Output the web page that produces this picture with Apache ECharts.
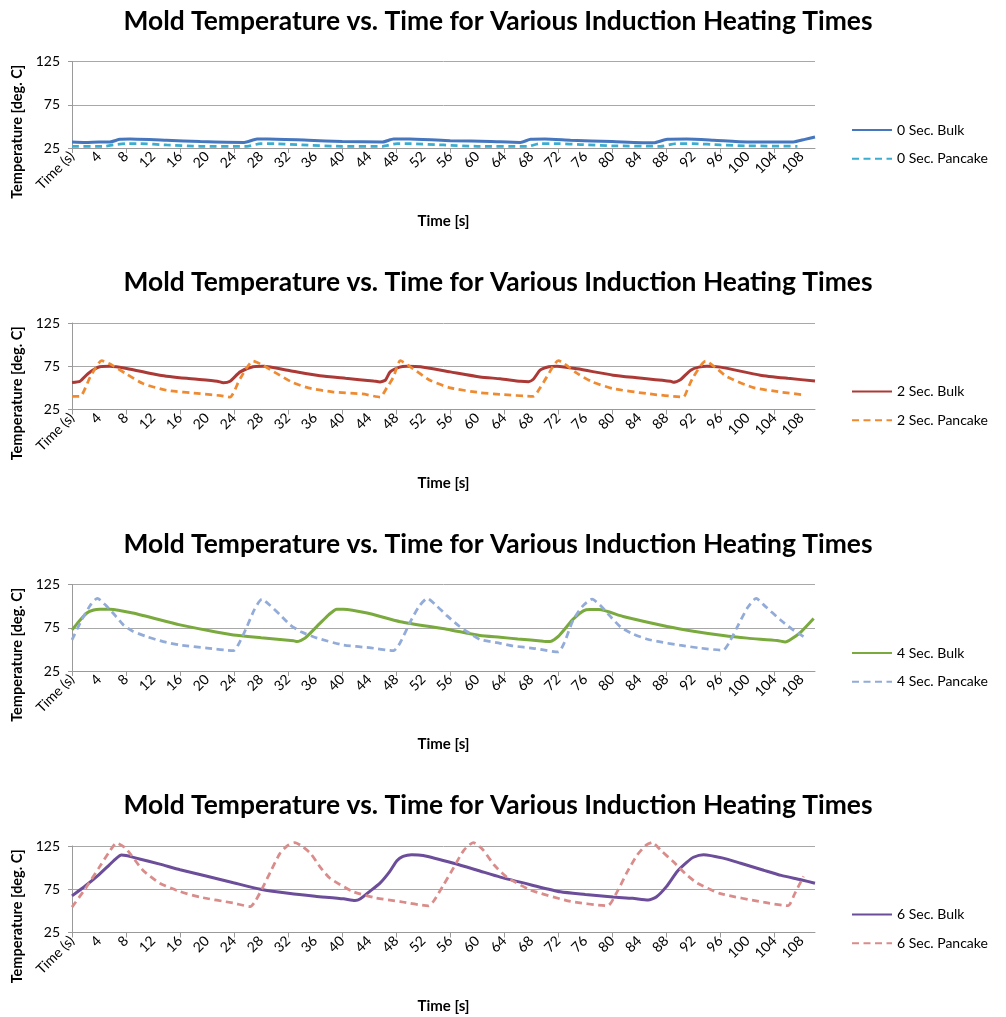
<!DOCTYPE html>
<html>
<head>
<meta charset="utf-8">
<script src="https://cdn.jsdelivr.net/npm/echarts@6/dist/echarts.min.js"></script>
<style>
  html, body { margin: 0; padding: 0; background: #ffffff; }
  #chart { width: 1006px; height: 1017px; }
</style>
</head>
<body>
<div id="chart"></div>
<script>
// Text
const chartTitle = 'Mold Temperature vs. Time for Various Induction Heating Times';
const xAxisTitle = 'Time [s]';
const yAxisTitle = 'Temperature [deg. C]';

// Axis ticks and labels
const xLabelTimes = [0, 4, 8, 12, 16, 20, 24, 28, 32, 36, 40, 44, 48, 52, 56, 60, 64, 68, 72, 76, 80, 84, 88, 92, 96, 100, 104, 108];
const xLabelTexts = ['Time (s)', '4', '8', '12', '16', '20', '24', '28', '32', '36', '40', '44', '48', '52', '56', '60', '64', '68', '72', '76', '80', '84', '88', '92', '96', '100', '104', '108'];
const xTickTimes = [0, 8, 16, 24, 32, 40, 48, 56, 64, 72, 80, 88, 96, 104];
const yMin = 25, yMax = 125, yStep = 50;
const timeMax = 110;

// Series names
const names0 = ['0 Sec. Bulk', '0 Sec. Pancake'];
const names2 = ['2 Sec. Bulk', '2 Sec. Pancake'];
const names4 = ['4 Sec. Bulk', '4 Sec. Pancake'];
const names6 = ['6 Sec. Bulk', '6 Sec. Pancake'];

// Measured mold temperature, [time s, temperature deg. C]
const bulk0 = [[0,32],[2,31.5],[4,32],[5.6,32],[7.1,35],[8.6,35.3],[14,34],[19,32.5],[25.5,31.5],[27.4,35.3],[29,35.3],[35,34],[40,32.5],[46,32],[47.6,35.3],[50,35.3],[56,33.5],[62,32.5],[66.4,31.5],[67.9,35],[70,35.3],[73.8,34],[80,32.5],[86.1,31],[88.1,35],[91,35.3],[95,34],[100,32],[106.8,32],[108.5,35],[110,37.7]];
const pancake0 = [[0,27],[5,27],[6.1,28.7],[8.1,30],[10,30],[14,28.5],[19,27],[25.9,27],[27.9,30],[30,30],[34,28.5],[40,27],[46,27],[48.1,30],[50,30],[55,28.5],[60,27],[67.4,27],[69.3,30],[72,30],[75.3,29],[80,27.5],[87.1,27],[89.5,30],[92,30],[96,28.5],[100,27.5],[107.4,27]];

const bulk2 = [[0,56.2],[1.2,57.7],[2.4,66.7],[4.1,74.4],[5.6,75],[8.1,72.5],[13,64.7],[17,61],[21.5,57.7],[22.4,56],[23.4,57.7],[24.9,68.5],[26.8,74.4],[28.3,75],[32.3,69.7],[36.7,63.9],[40.5,61],[44.6,58],[45.6,56.9],[46.4,59],[47.1,68.5],[48.5,74],[49.6,75],[51.6,74.4],[56,68.5],[60.4,62.7],[63.4,60.5],[66.4,57.7],[67.6,57.2],[68.3,60],[69.3,70.5],[70.6,74.4],[71.8,75],[74.8,72],[80.1,64.7],[84,61.5],[88.6,57.7],[89,56.5],[90,59],[91.6,70.5],[92.8,74],[94,75],[96,74],[101.9,64.7],[106,61],[110,58]];
const pancake2 = [[0,40.2],[1.2,40.2],[2.7,62.7],[4.4,81.4],[6,76],[8.1,65.8],[10.5,55],[14,47.2],[19,43.3],[22,41],[23.4,39.4],[24.9,60.8],[26.8,81],[28.3,76],[30.3,66.7],[32.8,55.7],[35,50],[38.7,45.2],[43,43],[45.6,39.4],[46.6,50],[47.6,62.7],[48.6,81.4],[50.5,72],[53,58.8],[56,50],[60.4,44.5],[63.4,42.5],[68.3,40.2],[69.3,50],[70.3,62.7],[72,81.4],[74.8,66.7],[77,57],[80.1,49.2],[85.2,43.3],[90.5,39.4],[91.2,50],[92,62.7],[93.8,81],[95.5,72],[97,62.7],[100.9,50.3],[104.9,45.2],[108.3,42]];

const bulk4 = [[0,72.5],[1,82],[2.2,92],[3.2,95.5],[4.1,96.5],[5.6,96.5],[9,92],[16,78.3],[20,72],[23.9,66.7],[28,63.5],[32.8,60],[33.3,59],[34.5,63],[36.7,80],[38,90],[39.2,96.5],[40.2,96.5],[43.7,92],[48.6,82],[55.5,73.3],[60.4,66],[63.4,64],[66,62],[69.8,59.5],[70.8,59],[72,65],[74.2,85],[75.7,94.5],[76.7,96],[78,96],[81.6,88],[88.1,76.5],[92,71],[96.4,66],[100,63],[104.4,60.3],[105.6,58.6],[106.5,62],[107.9,70],[109.8,85.6]];
const pancake4 = [[0,61],[1.5,85],[2.8,102],[3.75,109],[5,101],[6.3,90],[7.6,78.3],[9,71],[11.1,64.7],[13.5,59],[16,55],[20,51.5],[23.9,48.5],[24.8,58],[25.9,76.3],[27,96],[28.1,108],[29.3,101],[30.8,90],[32.3,78.3],[34,70],[36.3,63],[40.2,55],[44,52],[47.6,48.5],[48.6,58],[50.1,82],[51.4,100],[52.6,109],[53.9,101],[55.5,89],[57.3,77],[59,68],[60.4,61.5],[63.4,57],[65.3,54],[68.5,51],[72,47],[72.9,58],[74.2,84],[75.6,100],[77,108],[78.2,101],[79.6,89],[81.2,76],[83,68],[85.2,61.7],[87.5,58],[90,54.8],[93,51.5],[96.4,49],[97.3,58],[98.5,76],[100,98],[101.3,109],[102.6,100],[104.9,84],[106.5,74],[108.3,64.8]];

const bulk6 = [[0,67.3],[2,79],[4,92],[5.5,103],[6.6,111],[7.3,114.5],[8,114],[10,110],[13,104],[16,97.5],[20,90],[23.9,82.5],[27.9,75],[32.3,70],[36,67],[40.2,64],[41.9,62],[42.7,64],[44,72],[45.6,82],[47,95],[48.1,108],[49,113],[50.3,115],[52,114],[56.5,105],[60,97],[63.4,89],[68,80],[72.3,72],[76,69],[80.1,66],[83,64.5],[85.3,62.5],[86.5,66],[88,78],[89.6,95.5],[91,106],[92,112],[93.5,115],[96.4,111],[99,105],[102.4,97],[105,91],[107.9,86],[110,82]];
const pancake6 = [[0,54.3],[2,76],[4,100],[5.5,118],[6.6,128.5],[8,122],[10.5,97],[13,82],[16,72.3],[19,65.8],[23.9,59],[26.4,55],[27.2,62],[28.3,78],[29.5,97],[30.8,116.6],[32,126],[33,128.8],[34,125],[35.3,116.6],[36.8,100],[38.2,87.7],[41.6,72.3],[45,65],[48.6,60.8],[52.8,55.8],[53.6,62],[55,80],[56.5,100],[58,120],[59.4,129],[60.8,121],[62.5,103],[64.4,89],[67.9,74],[73.8,61],[79.3,56],[80.7,72],[82.2,95],[83.7,114.8],[85,126],[85.9,129],[87.3,119],[89,107],[90.8,93],[92.6,82],[96,70],[102.4,60],[106,56],[107,70],[108.3,89.8]];

// Panel composition and styling
const panels = [
  { names: names0, bulk: bulk0, pancake: pancake0, colors: ['#4677BE', '#3BADCF'] },
  { names: names2, bulk: bulk2, pancake: pancake2, colors: ['#AB3A36', '#EE8B32'] },
  { names: names4, bulk: bulk4, pancake: pancake4, colors: ['#7AAA3E', '#92ABD8'] },
  { names: names6, bulk: bulk6, pancake: pancake6, colors: ['#6B4D9A', '#D98C8A'] }
];

const FONT = 'Lato';
const PANEL_STEP = 261.5;
const GRID_TOP = 61.5;
const GRID_H = 86.5;
const GRID_LEFT = 72;
const GRID_RIGHT = 191;

const option = {
  animation: false,
  backgroundColor: '#ffffff',
  textStyle: { fontFamily: FONT },
  title: [], legend: [], grid: [], xAxis: [], yAxis: [], series: []
};

panels.forEach((p, i) => {
  const off = i * PANEL_STEP;
  option.title.push({
    text: chartTitle,
    left: 498, top: 8 + off, textAlign: 'center', padding: 0,
    textStyle: { fontFamily: FONT, fontWeight: 'bold', fontSize: 26.4, color: '#000000' }
  });
  option.grid.push({ left: GRID_LEFT, right: GRID_RIGHT, top: GRID_TOP + off, height: GRID_H });
  option.xAxis.push({
    type: 'value', gridIndex: i, min: 0, max: timeMax,
    name: xAxisTitle, nameLocation: 'middle', nameGap: 66,
    nameTextStyle: { fontFamily: FONT, fontWeight: 'bold', fontSize: 15, color: '#000000' },
    axisLine: { show: true, lineStyle: { color: '#9a9a9a', width: 1 } },
    axisTick: { show: true, customValues: xTickTimes, length: 5, lineStyle: { color: '#9a9a9a' } },
    axisLabel: {
      customValues: xLabelTimes, rotate: 45, margin: 6,
      fontFamily: FONT, fontSize: 14, color: '#000000',
      formatter: (v) => { const k = xLabelTimes.indexOf(v); return k >= 0 ? xLabelTexts[k] : ''; }
    },
    splitLine: { show: false }
  });
  option.yAxis.push({
    type: 'value', gridIndex: i, min: yMin, max: yMax, interval: yStep,
    name: yAxisTitle, nameLocation: 'middle', nameGap: 43, nameRotate: 90,
    nameTextStyle: { fontFamily: FONT, fontWeight: 'bold', fontSize: 14.5, color: '#000000', padding: [0, 54, 0, 0] },
    axisLine: { show: true, lineStyle: { color: '#9a9a9a', width: 1 } },
    axisTick: { show: true, length: 4, lineStyle: { color: '#9a9a9a' } },
    axisLabel: { margin: 12, fontFamily: FONT, fontSize: 14, color: '#000000' },
    splitLine: { show: true, lineStyle: { color: '#a8a8a8', width: 1 } }
  });
  option.legend.push({
    orient: 'vertical', left: 851, top: 123 + off, padding: 0,
    itemWidth: 40, itemHeight: 2, itemGap: 14.8,
    itemStyle: { opacity: 0 },
    data: p.names,
    textStyle: { fontFamily: FONT, fontSize: 14, color: '#000000' }
  });
  option.series.push({
    name: p.names[0], type: 'line', xAxisIndex: i, yAxisIndex: i,
    data: p.bulk, showSymbol: false, symbol: 'none', smooth: 0.2, clip: false,
    lineStyle: { color: p.colors[0], width: 3 }, itemStyle: { color: p.colors[0] }
  });
  option.series.push({
    name: p.names[1], type: 'line', xAxisIndex: i, yAxisIndex: i,
    data: p.pancake, showSymbol: false, symbol: 'none', smooth: 0.2, clip: false,
    lineStyle: { color: p.colors[1], width: 2.75, type: [7, 4.5] }, itemStyle: { color: p.colors[1] }
  });
});

const chart = echarts.init(document.getElementById('chart'), null, { renderer: 'canvas' });
chart.setOption(option);
</script>
</body>
</html>
